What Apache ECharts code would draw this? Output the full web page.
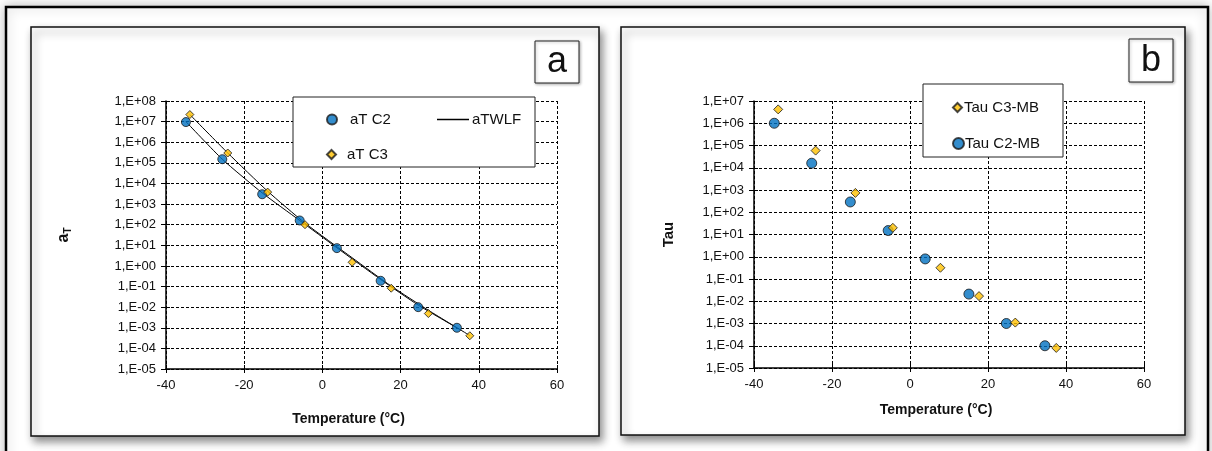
<!DOCTYPE html>
<html>
<head>
<meta charset="utf-8">
<script src="https://cdn.jsdelivr.net/npm/echarts@6/dist/echarts.min.js"></script>
<style>
html,body{margin:0;padding:0;background:#fff;}
#c{width:1212px;height:451px;}
</style>
</head>
<body>
<div id="c"></div>
<script>
// ---- Data ----
// Panel a: shift factors aT vs temperature
const tempC2 = [-34.9, -25.6, -15.4, -5.8, 3.7, 14.9, 24.5, 34.4];
const aTC2   = [9.5e6, 1.5e5, 3.0e3, 1.6e2, 7.3, 0.19, 0.010, 0.0010];
const tempC3 = [-33.9, -24.2, -14.0, -4.45, 7.6, 17.6, 27.1, 37.7];
const aTC3   = [2.2e7, 3.0e5, 3.8e3, 1.0e2, 1.5, 0.083, 0.0049, 4.1e-4];
// WLF fit curves (values read at the same temperatures)
const wlfC2  = [1.0e7, 1.5e5, 3.5e3, 1.6e2, 7.6, 0.22, 0.0126, 0.0010];
const wlfC3  = [2.2e7, 3.0e5, 4.2e3, 1.2e2, 2.5, 0.105, 0.0071, 4.2e-4];
// Panel b: Tau vs temperature
const tempC3MB = [-33.8, -24.2, -14.0, -4.4, 7.8, 17.7, 27.0, 37.5];
const tauC3MB  = [4.2e6, 5.9e4, 7.4e2, 20, 0.32, 0.017, 1.1e-3, 8.0e-5];
const tempC2MB = [-34.8, -25.2, -15.3, -5.6, 3.9, 15.1, 24.7, 34.6];
const tauC2MB  = [1.0e6, 1.6e4, 2.9e2, 15, 0.8, 0.021, 1.0e-3, 1.0e-4];
// Tick labels
const yTickLabelsA = ['1,E-05','1,E-04','1,E-03','1,E-02','1,E-01','1,E+00','1,E+01','1,E+02','1,E+03','1,E+04','1,E+05','1,E+06','1,E+07','1,E+08'];
const yTickLabelsB = ['1,E-05','1,E-04','1,E-03','1,E-02','1,E-01','1,E+00','1,E+01','1,E+02','1,E+03','1,E+04','1,E+05','1,E+06','1,E+07'];
const xTickLabels = ['-40','-20','0','20','40','60'];

// ---- Chart ----
const FONT = 'Liberation Sans, Arial, sans-serif';
const BLUE = '#0070C0', ORANGE = '#FFC000';
const pairs = (xs, ys) => xs.map((x, i) => [x, ys[i]]);
const expIdx = v => Math.round(Math.log10(v)) + 5;
const xFmt = v => xTickLabels[Math.round((v + 40) / 20)];

function xAxisMain(gi, nameGap, namePadRight) {
  return {
    type: 'value', gridIndex: gi, min: -40, max: 60, interval: 20,
    axisLine: { show: true, onZero: false, lineStyle: { color: '#000', width: 1.5 } },
    axisTick: { show: true, length: 4, lineStyle: { color: '#000' } },
    axisLabel: { formatter: xFmt, color: '#111', fontFamily: FONT, fontSize: 13, margin: 10 },
    splitLine: { show: true, lineStyle: { color: '#000', type: [3, 2], width: 1 } },
    name: 'Temperature (°C)', nameLocation: 'middle', nameGap: nameGap,
    nameTextStyle: { fontFamily: FONT, fontWeight: 'bold', fontSize: 14, color: '#111', padding: [0, namePadRight, 0, 0] }
  };
}
function xAxisInner(gi) {
  return {
    type: 'value', gridIndex: gi, min: -40, max: 60, interval: 20, position: 'bottom',
    axisLine: { show: false, onZero: false }, axisTick: { show: true, inside: true, length: 4, lineStyle: { color: '#000' } },
    axisLabel: { show: false }, splitLine: { show: false }
  };
}
function yAxisMain(gi, max, labels, name, nameGap) {
  return {
    type: 'log', logBase: 10, gridIndex: gi, min: 1e-5, max: max, interval: 1,
    axisLine: { show: true, onZero: false, lineStyle: { color: '#000', width: 1.5 } },
    axisTick: { show: true, length: 5, lineStyle: { color: '#000' } },
    axisLabel: { formatter: v => labels[expIdx(v)], color: '#111', fontFamily: FONT, fontSize: 13, margin: 10 },
    splitLine: { show: true, lineStyle: { color: '#000', type: [3, 2], width: 1 } },
    name: name, nameLocation: 'middle', nameGap: nameGap, nameRotate: 90,
    nameTextStyle: {
      fontFamily: FONT, fontWeight: 'bold', fontSize: 15, color: '#111',
      rich: {
        a: { fontFamily: FONT, fontWeight: 'bold', fontSize: 16, color: '#111' },
        s: { fontFamily: FONT, fontWeight: 'bold', fontSize: 10, color: '#111', padding: [8, 0, 0, 0] }
      }
    }
  };
}
function yAxisInner(gi, max) {
  return {
    type: 'log', logBase: 10, gridIndex: gi, min: 1e-5, max: max, interval: 1, position: 'left',
    axisLine: { show: false, onZero: false }, axisTick: { show: true, inside: true, length: 4, lineStyle: { color: '#000' } },
    axisLabel: { show: false }, splitLine: { show: false }
  };
}

const circleStyle = { color: BLUE, borderColor: '#1a1a1a', borderWidth: 1 };
const diamondStyle = { color: ORANGE, borderColor: '#1a1a1a', borderWidth: 1 };
const legendText = { fontFamily: FONT, fontSize: 15, color: '#111' };

function panelRect(x, y, w, h) {
  return { type: 'rect', z: -1, shape: { x: x, y: y, width: w, height: h },
    style: { fill: '#fff', stroke: '#111', lineWidth: 1.5, shadowBlur: 8, shadowOffsetX: 3, shadowOffsetY: 5, shadowColor: 'rgba(0,0,0,0.45)' } };
}
function boxRect(x, y, w, h, z) {
  return { type: 'rect', z: z, shape: { x: x, y: y, width: w, height: h },
    style: { fill: '#fff', stroke: '#222', lineWidth: 1 } };
}

const option = {
  backgroundColor: '#fff',
  animation: false,
  grid: [
    { left: 166, top: 101, width: 391, height: 268 },
    { left: 754, top: 101, width: 390, height: 267 }
  ],
  xAxis: [ xAxisMain(0, 43, 26), xAxisMain(1, 35, 26), xAxisInner(0), xAxisInner(1) ],
  yAxis: [
    yAxisMain(0, 1e8, yTickLabelsA, '{a|a}{s|T}', 93),
    yAxisMain(1, 1e7, yTickLabelsB, 'Tau', 78),
    yAxisInner(0, 1e8),
    yAxisInner(1, 1e7)
  ],
  legend: [
    { z: 6, left: 321, top: 107, itemWidth: 10, itemHeight: 10, itemGap: 0, data: [{ name: 'aT C2', icon: 'circle' }], textStyle: Object.assign({ padding: [0, 0, 0, 8] }, legendText) },
    { z: 6, left: 432, top: 107, itemWidth: 32, itemHeight: 1.5, data: [{ name: 'aTWLF', icon: 'rect' }], itemStyle: { color: '#000' }, textStyle: Object.assign({ padding: [0, 0, 0, -2] }, legendText) },
    { z: 6, left: 321, top: 142, itemWidth: 9, itemHeight: 9, data: [{ name: 'aT C3', icon: 'diamond' }], textStyle: Object.assign({ padding: [0, 0, 0, 6] }, legendText) },
    { z: 6, left: 947, top: 95, itemWidth: 9, itemHeight: 9, itemGap: 0, data: [{ name: 'Tau C3-MB', icon: 'diamond' }], textStyle: Object.assign({ padding: [0, 0, 0, -3] }, legendText) },
    { z: 6, left: 947, top: 131, itemWidth: 11, itemHeight: 11, data: [{ name: 'Tau C2-MB', icon: 'circle' }], textStyle: Object.assign({ padding: [0, 0, 0, -4] }, legendText) }
  ],
  graphic: [
    { type: 'rect', z: -2, shape: { x: 6, y: 7, width: 1202, height: 460 },
      style: { fill: '#fff', stroke: '#000', lineWidth: 2.5, shadowBlur: 12, shadowColor: 'rgba(0,0,0,0.25)' } },
    panelRect(31, 27, 568, 409),
    panelRect(621, 27, 564, 408),
    boxRect(293, 97, 242, 70, 5),
    boxRect(923, 84, 140, 73, 5),
    { type: 'rect', z: 5, shape: { x: 535, y: 41, width: 44, height: 42 },
      style: { fill: '#fff', stroke: '#222', lineWidth: 1, shadowBlur: 3, shadowOffsetX: 1, shadowOffsetY: 1, shadowColor: 'rgba(0,0,0,0.3)' } },
    { type: 'text', z: 6, x: 557, y: 62, style: { text: 'a', font: '36px ' + FONT, fill: '#111', textAlign: 'center', textVerticalAlign: 'middle' } },
    { type: 'rect', z: 5, shape: { x: 1129, y: 39, width: 44, height: 43 },
      style: { fill: '#fff', stroke: '#222', lineWidth: 1, shadowBlur: 3, shadowOffsetX: 1, shadowOffsetY: 1, shadowColor: 'rgba(0,0,0,0.3)' } },
    { type: 'text', z: 6, x: 1151, y: 61, style: { text: 'b', font: '36px ' + FONT, fill: '#111', textAlign: 'center', textVerticalAlign: 'middle' } }
  ],
  series: [
    { name: 'aTWLF', type: 'line', xAxisIndex: 0, yAxisIndex: 0, data: pairs(tempC2, wlfC2), symbol: 'none', smooth: 0.2, lineStyle: { color: '#000', width: 1 }, itemStyle: { color: '#000' }, z: 2 },
    { name: 'aTWLF', type: 'line', xAxisIndex: 0, yAxisIndex: 0, data: pairs(tempC3, wlfC3), symbol: 'none', smooth: 0.2, lineStyle: { color: '#000', width: 1 }, itemStyle: { color: '#000' }, z: 2 },
    { name: 'aT C2', type: 'scatter', xAxisIndex: 0, yAxisIndex: 0, data: pairs(tempC2, aTC2), symbol: 'circle', symbolSize: 9, itemStyle: circleStyle, z: 3 },
    { name: 'aT C3', type: 'scatter', xAxisIndex: 0, yAxisIndex: 0, data: pairs(tempC3, aTC3), symbol: 'diamond', symbolSize: 8, itemStyle: diamondStyle, z: 4 },
    { name: 'Tau C3-MB', type: 'scatter', xAxisIndex: 1, yAxisIndex: 1, data: pairs(tempC3MB, tauC3MB), symbol: 'diamond', symbolSize: 9, itemStyle: diamondStyle, z: 4 },
    { name: 'Tau C2-MB', type: 'scatter', xAxisIndex: 1, yAxisIndex: 1, data: pairs(tempC2MB, tauC2MB), symbol: 'circle', symbolSize: 10, itemStyle: circleStyle, z: 3 }
  ]
};
const chart = echarts.init(document.getElementById('c'), null, { renderer: 'canvas' });
chart.setOption(option);
</script>
</body>
</html>
